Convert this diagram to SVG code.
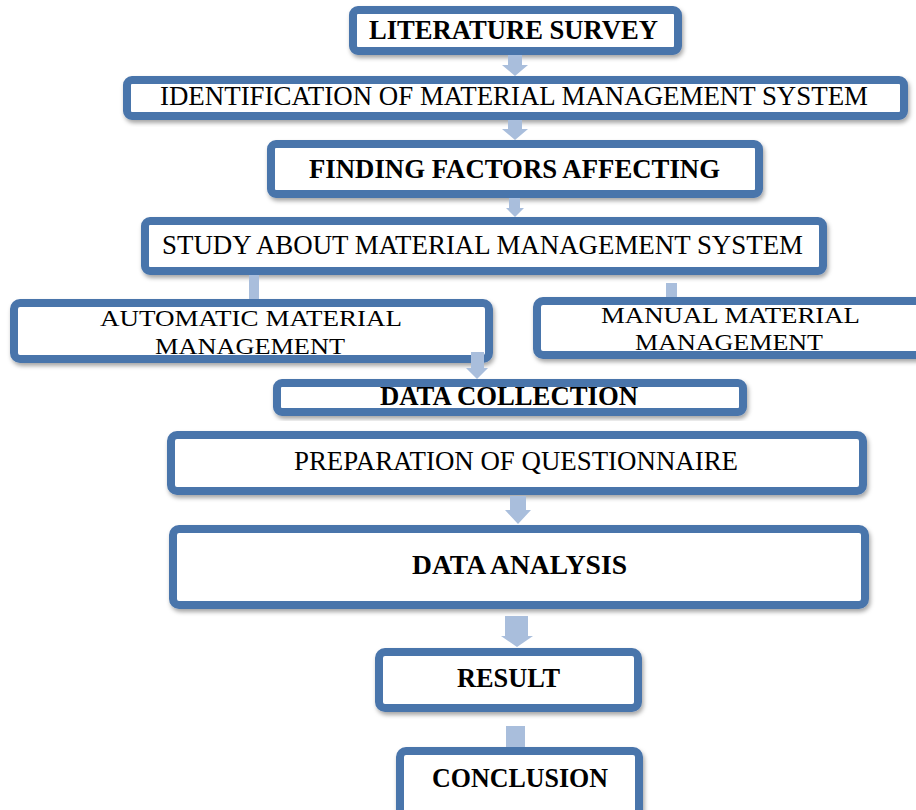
<svg xmlns="http://www.w3.org/2000/svg" width="916" height="810" viewBox="0 0 916 810">
<defs>
<filter id="sh" x="-5%" y="-20%" width="110%" height="150%">
<feDropShadow dx="1.5" dy="3" stdDeviation="2" flood-color="#000" flood-opacity="0.35"/>
</filter>
</defs>
<style>
.box{fill:#fff;stroke:#4a75ab;stroke-width:8;filter:url(#sh)}
.t{font-family:"Liberation Serif","Times New Roman",serif;font-size:26.5px;fill:#000;text-anchor:middle}
.s{font-size:24px}
.b{font-weight:bold}
.arr{fill:#a9bedc}
</style>
<rect width="916" height="810" fill="#fff"/>
<g id="nodes">
<g id="literature-survey">
<rect class="box" x="353" y="10" width="325" height="41" rx="5"/>
<text class="t b" x="513.5" y="39" textLength="289" lengthAdjust="spacingAndGlyphs">LITERATURE SURVEY</text>
</g>
<g id="identification">
<rect class="box" x="127" y="80" width="777" height="36" rx="5"/>
<text class="t" x="514" y="105" textLength="708" lengthAdjust="spacingAndGlyphs">IDENTIFICATION OF MATERIAL MANAGEMENT SYSTEM</text>
</g>
<g id="finding-factors">
<rect class="box" x="271" y="144" width="488" height="50" rx="5"/>
<text class="t b" x="514.5" y="178" textLength="411" lengthAdjust="spacingAndGlyphs">FINDING FACTORS AFFECTING</text>
</g>
<g id="study">
<rect class="box" x="145" y="221" width="678" height="50" rx="5"/>
<text class="t" x="482.5" y="254" textLength="641" lengthAdjust="spacingAndGlyphs">STUDY ABOUT MATERIAL MANAGEMENT SYSTEM</text>
</g>
<g id="automatic">
<rect class="box" x="14" y="303" width="475" height="56" rx="6"/>
<text class="t s" x="251" y="326" textLength="302" lengthAdjust="spacingAndGlyphs">AUTOMATIC MATERIAL</text>
<text class="t s" x="250" y="354" textLength="190" lengthAdjust="spacingAndGlyphs">MANAGEMENT</text>
</g>
<g id="manual">
<rect class="box" x="537" y="301" width="400" height="54" rx="6"/>
<text class="t s" x="730.5" y="323" textLength="259" lengthAdjust="spacingAndGlyphs">MANUAL MATERIAL</text>
<text class="t s" x="729" y="350" textLength="188" lengthAdjust="spacingAndGlyphs">MANAGEMENT</text>
</g>
<g id="data-collection">
<rect class="box" x="277" y="383" width="466" height="29" rx="5"/>
<text class="t b" x="509" y="405" textLength="258" lengthAdjust="spacingAndGlyphs">DATA COLLECTION</text>
</g>
<g id="questionnaire">
<rect class="box" x="171" y="435" width="692" height="56" rx="6"/>
<text class="t" x="516" y="470" textLength="444" lengthAdjust="spacingAndGlyphs">PREPARATION OF QUESTIONNAIRE</text>
</g>
<g id="data-analysis">
<rect class="box" x="173" y="529" width="692" height="76" rx="6"/>
<text class="t b" x="519.5" y="574" textLength="215" lengthAdjust="spacingAndGlyphs">DATA ANALYSIS</text>
</g>
<g id="result">
<rect class="box" x="379" y="652" width="259" height="56" rx="6"/>
<text class="t b" x="508.5" y="687" textLength="103" lengthAdjust="spacingAndGlyphs">RESULT</text>
</g>
<g id="conclusion">
<rect class="box" x="400" y="751" width="239" height="75" rx="6"/>
<text class="t b" x="520" y="787" textLength="176" lengthAdjust="spacingAndGlyphs">CONCLUSION</text>
</g>
</g>
<g id="connectors">
<polygon class="arr" points="508,55 522,55 522,65 528,65 515,76 502,65 508,65"/>
<polygon class="arr" points="508,120 522,120 522,129 528,129 515,140 502,129 508,129"/>
<polygon class="arr" points="509,198 520,198 520,208 524,208 515,217 506,208 509,208"/>
<rect class="arr" x="249" y="275" width="10" height="24"/>
<rect class="arr" x="666" y="283" width="11" height="14"/>
<polygon class="arr" points="471,352 484,352 484,368 488,368 477,379 466,368 471,368"/>
<polygon class="arr" points="510,496 526,496 526,510 531,510 518,524 505,510 510,510"/>
<polygon class="arr" points="505,616 528,616 528,636 533,636 517,647 501,636 505,636"/>
<rect class="arr" x="506" y="726" width="19" height="21"/>
</g>
</svg>
